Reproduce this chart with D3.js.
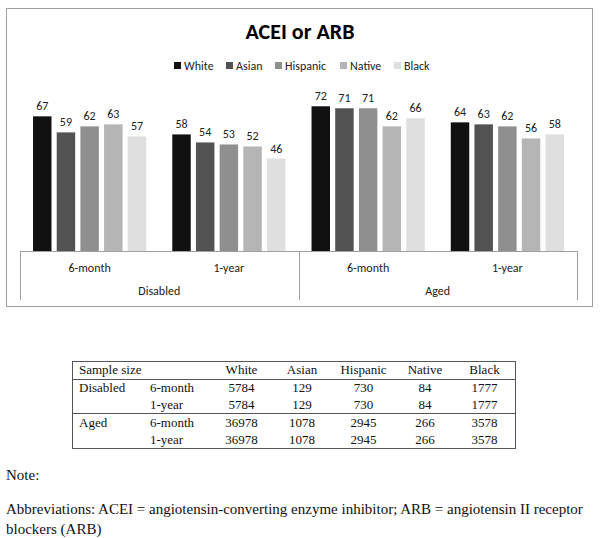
<!DOCTYPE html>
<html>
<head>
<meta charset="utf-8">
<script src="https://cdn.jsdelivr.net/npm/d3@7"></script>
<style>
  body { margin: 0; background: #fff; }
  svg { display: block; }
</style>
</head>
<body>
<div id="chart"></div>
<script>
var groups = ["Disabled", "Aged"];
var periods = ["6-month", "1-year"];
var races = ["White", "Asian", "Hispanic", "Native", "Black"];
var colors = ["#111111", "#525252", "#8f8f8f", "#b5b5b5", "#dfdfdf"];

// percent with ACEI or ARB, one array per race: Disabled 6m, Disabled 1y, Aged 6m, Aged 1y
var white = [67, 58, 72, 64];
var asian = [59, 54, 71, 63];
var hispanic = [62, 53, 71, 62];
var native = [63, 52, 62, 56];
var black = [57, 46, 66, 58];

// sample size table
var sizeHeader = ["Sample size", "", "White", "Asian", "Hispanic", "Native", "Black"];
var sizeDisabled = [5784, 129, 730, 84, 1777];
var sizeAged = [36978, 1078, 2945, 266, 3578];

var noteText = "Note:";
var abbrevLines = [
  "Abbreviations: ACEI = angiotensin-converting enzyme inhibitor; ARB = angiotensin II receptor",
  "blockers (ARB)"
];

var width = 600, height = 538;
var svg = d3.select("#chart").append("svg")
  .attr("width", width)
  .attr("height", height);

var sans = "Carlito, Lato, 'Open Sans', sans-serif";
var serif = "'Liberation Serif', 'DejaVu Serif', serif";

// outer chart frame
svg.append("rect")
  .attr("x", 6.5).attr("y", 8.5)
  .attr("width", 586).attr("height", 298)
  .attr("fill", "none")
  .attr("stroke", "#a0a0a0")
  .attr("stroke-width", 1);

svg.append("text")
  .attr("x", 300).attr("y", 39)
  .attr("text-anchor", "middle")
  .style("font-family", sans)
  .style("font-weight", "bold")
  .style("font-size", "22px")
  .text("ACEI or ARB");

// legend
var legendX = [174, 226, 275, 340, 394];
var legend = svg.append("g").selectAll("g")
  .data(races)
  .enter().append("g")
  .attr("transform", function(d, i) { return "translate(" + legendX[i] + ",62)"; });
legend.append("rect")
  .attr("width", 7).attr("height", 7)
  .attr("fill", function(d, i) { return colors[i]; });
legend.append("text")
  .attr("x", 10).attr("y", 7.5)
  .style("font-family", sans)
  .style("font-size", "12px")
  .style("fill", "#222")
  .text(function(d) { return d; });

// bars
var cats = [];
groups.forEach(function(g) {
  periods.forEach(function(p) { cats.push(g + "|" + p); });
});

var x0 = d3.scaleBand().domain(cats).range([20, 577]).paddingInner(0).paddingOuter(0);
var x1 = d3.scaleBand().domain(races).range([0, x0.bandwidth()]).paddingInner(0.22).paddingOuter(0.55);
var y = d3.scaleLinear().domain([0, 100]).range([251, 50]);

var series = [white, asian, hispanic, native, black];
var rows = cats.map(function(c, ci) {
  return races.map(function(r, ri) { return {cat: c, race: r, ri: ri, v: series[ri][ci]}; });
});

var cg = svg.append("g").selectAll("g")
  .data(rows)
  .enter().append("g")
  .attr("transform", function(d, i) { return "translate(" + x0(cats[i]) + ",0)"; });

cg.selectAll("rect")
  .data(function(d) { return d; })
  .enter().append("rect")
  .attr("x", function(d) { return x1(d.race); })
  .attr("width", x1.bandwidth())
  .attr("y", function(d) { return y(d.v); })
  .attr("height", function(d) { return y(0) - y(d.v); })
  .attr("fill", function(d) { return colors[d.ri]; });

cg.selectAll("text")
  .data(function(d) { return d; })
  .enter().append("text")
  .attr("x", function(d) { return x1(d.race) + x1.bandwidth() / 2; })
  .attr("y", function(d) { return y(d.v) - 6; })
  .attr("text-anchor", "middle")
  .style("font-family", sans)
  .style("font-size", "12px")
  .style("fill", "#222")
  .text(function(d) { return d.v; });

// category axis box
var axis = svg.append("g").attr("stroke", "#a0a0a0").attr("stroke-width", 1);
axis.append("line")
  .attr("x1", x0.range()[0]).attr("x2", x0.range()[1])
  .attr("y1", y(0) + 0.5).attr("y2", y(0) + 0.5);
[x0(cats[0]), x0(cats[2]), x0.range()[1]].forEach(function(xx) {
  axis.append("line")
    .attr("x1", Math.round(xx) + 0.5).attr("x2", Math.round(xx) + 0.5)
    .attr("y1", y(0)).attr("y2", 300);
});

svg.append("g").selectAll("text")
  .data(cats)
  .enter().append("text")
  .attr("x", function(d) { return x0(d) + x0.bandwidth() / 2; })
  .attr("y", 272)
  .attr("text-anchor", "middle")
  .style("font-family", sans)
  .style("font-size", "12px")
  .style("fill", "#222")
  .text(function(d) { return d.split("|")[1]; });

svg.append("g").selectAll("text")
  .data(groups)
  .enter().append("text")
  .attr("x", function(d) { return x0(d + "|" + periods[0]) + x0.bandwidth(); })
  .attr("y", 295)
  .attr("text-anchor", "middle")
  .style("font-family", sans)
  .style("font-size", "12px")
  .style("fill", "#222")
  .text(function(d) { return d; });

// sample size table
var tLeft = 72, tRight = 515, tTop = 361, tBottom = 448;
var colX = [79, 150, 241.5, 302, 363.5, 425, 484.5];
var rowY = [374, 392, 409, 427, 444];
var table = svg.append("g")
  .style("font-family", serif)
  .style("font-size", "13px")
  .style("fill", "#111");

table.append("rect")
  .attr("x", tLeft + 0.5).attr("y", tTop + 0.5)
  .attr("width", tRight - tLeft).attr("height", tBottom - tTop)
  .attr("fill", "none").attr("stroke", "#555");
[379, 413].forEach(function(ly) {
  table.append("line")
    .attr("x1", tLeft).attr("x2", tRight + 1)
    .attr("y1", ly + 0.5).attr("y2", ly + 0.5)
    .attr("stroke", "#555");
});

table.selectAll("text.h")
  .data(sizeHeader)
  .enter().append("text")
  .attr("class", "h")
  .attr("x", function(d, i) { return colX[i]; })
  .attr("y", rowY[0])
  .attr("text-anchor", function(d, i) { return i < 2 ? "start" : "middle"; })
  .text(function(d) { return d; });

var tableRows = [];
groups.forEach(function(g, gi) {
  var vals = gi === 0 ? sizeDisabled : sizeAged;
  periods.forEach(function(p, pi) {
    tableRows.push({label: pi === 0 ? g : "", period: p, vals: vals});
  });
});

var tr = table.selectAll("g.row")
  .data(tableRows)
  .enter().append("g")
  .attr("class", "row");
tr.append("text")
  .attr("x", colX[0])
  .attr("y", function(d, i) { return rowY[i + 1]; })
  .text(function(d) { return d.label; });
tr.append("text")
  .attr("x", colX[1])
  .attr("y", function(d, i) { return rowY[i + 1]; })
  .text(function(d) { return d.period; });
tr.each(function(d, i) {
  d3.select(this).selectAll("text.v")
    .data(d.vals)
    .enter().append("text")
    .attr("class", "v")
    .attr("x", function(v, j) { return colX[j + 2]; })
    .attr("y", rowY[i + 1])
    .attr("text-anchor", "middle")
    .text(function(v) { return v; });
});

// notes
var notes = svg.append("g")
  .style("font-family", serif)
  .style("font-size", "15px")
  .style("fill", "#111");
notes.append("text").attr("x", 6).attr("y", 480).text(noteText);
notes.selectAll("text.a")
  .data(abbrevLines)
  .enter().append("text")
  .attr("class", "a")
  .attr("x", 6)
  .attr("y", function(d, i) { return 514 + i * 20; })
  .text(function(d) { return d; });
</script>
</body>
</html>
